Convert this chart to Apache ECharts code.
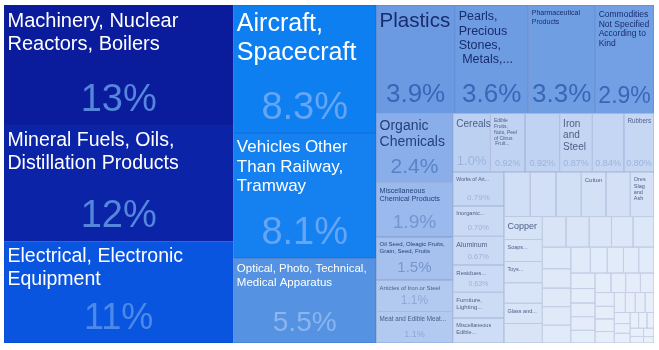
<!DOCTYPE html>
<html><head><meta charset="utf-8">
<script src="https://cdn.jsdelivr.net/npm/echarts@6/dist/echarts.min.js"></script>
<style>html,body{margin:0;padding:0;background:#fff}#c{width:659px;height:350px}</style>
</head><body><div id="c"></div>
<script>
// ---- data ----
const categories = [
  "Machinery, Nuclear\nReactors, Boilers",
  "Mineral Fuels, Oils,\nDistillation Products",
  "Electrical, Electronic\nEquipment",
  "Aircraft,\nSpacecraft",
  "Vehicles Other\nThan Railway,\nTramway",
  "Optical, Photo, Technical,\nMedical Apparatus",
  "Plastics",
  "Pearls,\nPrecious\nStones,\n Metals,...",
  "Pharmaceutical\nProducts",
  "Commodities\nNot Specified\nAccording to\nKind",
  "Organic\nChemicals",
  "Miscellaneous\nChemical Products",
  "Oil Seed, Oleagic Fruits,\nGrain, Seed, Fruits",
  "Articles of Iron or Steel",
  "Meat and Edible Meat...",
  "Cereals",
  "Edible\nFruits,\nNuts, Peel\nof Citrus\n Fruit...",
  "",
  "Iron\nand\nSteel",
  "",
  "Rubbers",
  "Works of Art...",
  "Inorganic...",
  "Aluminum",
  "Residues...",
  "Furniture,\nLighting...",
  "Miscellaneous\nEdible...",
  "", "", "", "Cotton", "", "Ores\nSlag\nand\nAsh",
  "Copper", "Soaps...", "Toys...", "", "Glass and...", ""
];
const values = [
  12.5, 12.1, 10.6,
  8.3, 8.1, 5.5,
  3.9, 3.6, 3.3, 2.9,
  2.4, 1.9, 1.5, 1.1, 1.1,
  1.0, 0.92, 0.92, 0.87, 0.84, 0.80,
  0.79, 0.70, 0.67, 0.63, 0.60, 0.58,
  0.53, 0.52, 0.51, 0.50, 0.49, 0.48,
  0.40, 0.38, 0.37, 0.36, 0.35, 0.34,
  0.33, 0.32, 0.31, 0.30, 0.29, 0.28,
  0.25, 0.24, 0.24, 0.23, 0.23,
  0.20, 0.19, 0.18, 0.18, 0.17,
  0.16, 0.15, 0.15, 0.14, 0.14,
  0.13, 0.13, 0.12, 0.12, 0.11,
  0.11, 0.10, 0.10, 0.09, 0.09,
  0.08, 0.08, 0.07, 0.07, 0.06,
  0.06, 0.05, 0.05, 0.04, 0.04, 0.03
];

// ---- styles (kept apart from data) ----
const nameSizes = [20, 19.5, 19.5, 25, 17, 11.5, 20.5, 12.5, 7, 8.5,
  14, 7.2, 6, 6, 6.3, 10, 5, 6, 10, 6, 6.3,
  5.2, 5.7, 7, 6, 6, 5.5,
  6, 6, 6, 6, 6, 5.5,
  9, 5.5, 5.5, 6, 5.5, 6];
const pctSizes = [38, 38, 36, 38, 38, 28, 26, 26, 26, 23,
  21, 19, 15, 12, 9, 13, 9, 9, 9, 9, 9, 8, 7.5, 7.5, 7];

const colorStops = [
  [12.5,'#0a1c9c'],[12.1,'#0b23a7'],[10.6,'#0a55e0'],[8.3,'#0e7ff1'],[8.1,'#1580ef'],
  [5.5,'#5592e2'],[3.9,'#6c9ae2'],[2.9,'#73a0e4'],[2.4,'#8aaee9'],[1.9,'#9ab9ec'],
  [1.5,'#a6c1ee'],[1.1,'#b2c9f0'],[1.0,'#bcd0f2'],[0.8,'#c6d7f3'],[0.6,'#cddcf5'],
  [0.5,'#d3e0f6'],[0.35,'#d8e4f7'],[0.28,'#dde8f8'],[0.1,'#e6eefa'],[0.0,'#ecf2fb']
];
function hex(c){return [1,3,5].map(i=>parseInt(c.slice(i,i+2),16));}
function toHex(a){return '#'+a.map(x=>Math.round(Math.max(0,Math.min(255,x))).toString(16).padStart(2,'0')).join('');}
function fillFor(v){
  for(let i=0;i<colorStops.length-1;i++){
    const [v0,c0]=colorStops[i],[v1,c1]=colorStops[i+1];
    if(v>=v0) return c0;
    if(v>=v1){const t=(v-v1)/(v0-v1);const a=hex(c0),b=hex(c1);return toHex(a.map((x,k)=>b[k]+(x-b[k])*t));}
  }
  return colorStops[colorStops.length-1][1];
}
function borderFor(c){const a=hex(c),d=[26,48,128];return toHex(a.map((x,k)=>x*0.75+d[k]*0.25));}
function nameColor(v){
  if(v>=5) return '#ffffff';
  if(v>=2.8) return '#172d6c';
  if(v>=1.4) return '#243f7c';
  if(v>=0.95) return '#4c6088';
  return '#4f6086';
}
function pctColor(v){
  if(v>=12) return '#5486dc';
  if(v>=10) return '#4c8ae8';
  if(v>=7) return '#64a5f5';
  if(v>=5) return '#8bb5ef';
  if(v>=2.8) return '#3a66b8';
  if(v>=2) return '#5a82c8';
  if(v>=1.4) return '#7696d0';
  if(v>=1.05) return '#8ea8d8';
  return '#9db3dc';
}
function pctText(v){
  if(v>=10) return Math.round(v)+'%';
  if(v>=1) return v.toFixed(1)+'%';
  return v.toFixed(2)+'%';
}

const nameData = values.map((v,i)=>{
  const fill=fillFor(v), fs=nameSizes[i]||6;
  return {
    name: categories[i]||'',
    value: v,
    itemStyle:{color:fill,borderColor:borderFor(fill),borderWidth:0.5},
    label:{fontSize:fs,lineHeight:fs*1.15,color:nameColor(v)}
  };
});
const pctData = values.map((v,i)=>{
  const fs=pctSizes[i];
  return {
    name: fs ? pctText(v) : '',
    value: v,
    itemStyle:{color:'rgba(0,0,0,0)',borderColor:'rgba(0,0,0,0)',borderWidth:0},
    label:{show: !!fs, fontSize:fs||6, lineHeight:(fs||6)*1.1, color:pctColor(v)}
  };
});

const common = {
  type:'treemap', left:4, top:5, width:650, height:338,
  sort:false, roam:false, nodeClick:false, silent:true,
  breadcrumb:{show:false}, visibleMin:0, squareRatio:0.5*(1+Math.sqrt(5)),
  emphasis:{disabled:true}
};
const chart = echarts.init(document.getElementById('c'), null, {renderer:'canvas'});
chart.setOption({
  animation:false,
  series:[
    Object.assign({}, common, {
      itemStyle:{borderWidth:0,gapWidth:0,borderColor:'#ffffff'},
      label:{show:true,position:'insideTopLeft',distance:0,padding:[4,2,0,3],
        fontFamily:'Liberation Sans, Arial, sans-serif',overflow:'none'},
      levels:[{itemStyle:{borderWidth:0,gapWidth:0}}],
      data:nameData
    }),
    Object.assign({}, common, {
      itemStyle:{borderWidth:0,gapWidth:0,borderColor:'rgba(0,0,0,0)',color:'rgba(0,0,0,0)'},
      label:{show:true,position:'insideBottom',distance:0,padding:[0,0,4,0],
        fontFamily:'Liberation Sans, Arial, sans-serif',overflow:'none'},
      levels:[{itemStyle:{borderWidth:0,gapWidth:0,borderColor:'rgba(0,0,0,0)'}}],
      data:pctData
    })
  ]
});
</script></body></html>
